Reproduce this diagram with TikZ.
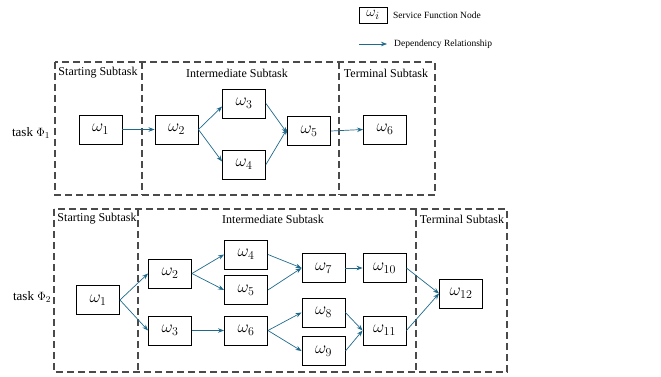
\documentclass[tikz,border=0pt]{standalone}
\usepackage{fontspec}
\setmainfont{Liberation Serif}
\usetikzlibrary{arrows.meta}
\definecolor{arr}{HTML}{1F6A8C}
\definecolor{dash}{HTML}{4A4A4A}
\tikzset{
  fnode/.style={draw=black,line width=0.9pt,minimum width=43pt,minimum height=29pt,inner sep=0pt,font=\fontsize{18}{18}\selectfont},
  dep/.style={draw=arr,line width=0.7pt,-{Stealth[length=6pt,width=4.5pt]}},
  region/.style={draw=dash,line width=1.1pt,dash pattern=on 7pt off 4pt},
  lbl/.style={font=\fontsize{12}{12}\selectfont,inner sep=0pt},
  leg/.style={font=\fontsize{9.5}{9.5}\selectfont,inner sep=0pt,anchor=west}
}
\begin{document}
\begin{tikzpicture}[x=1pt,y=-1pt]
\useasboundingbox (0,0) rectangle (661,377);
% legend
\node[draw=black,line width=0.9pt,minimum width=28pt,minimum height=16pt,inner sep=0pt,font=\fontsize{15}{15}\selectfont] (legbox) at (373,15) {$\omega_i$};
\node[leg] (legt1) at (393,15) {Service Function Node};
\coordinate (la) at (359,44);
\coordinate (lb) at (387,44);
\draw[dep] (la) -- (lb);
\node[leg] (legt2) at (394,44) {Dependency Relationship};
% task 1 regions
\draw[region] (55,62) rectangle (435,195);
\draw[region] (142,62) -- (142,195);
\draw[region] (339,62) -- (339,195);
\node[lbl] (s1) at (98,73) {Starting Subtask};
\node[lbl] (i1) at (237,73) {Intermediate Subtask};
\node[lbl] (t1) at (386,73) {Terminal Subtask};
\node[lbl,font=\fontsize{13}{13}\selectfont] (task1) at (31,133) {task $\Phi_1$};
\node[fnode] (a1) at (100.5,129.5) {$\omega_1$};
\node[fnode] (a2) at (176.5,129.5) {$\omega_2$};
\node[fnode] (a3) at (244,103.5) {$\omega_3$};
\node[fnode] (a4) at (244,164.5) {$\omega_4$};
\node[fnode] (a5) at (309,131) {$\omega_5$};
\node[fnode] (a6) at (385,129.5) {$\omega_6$};
\draw[dep] (a1.east) -- (a2.west);
\draw[dep] (a2.east) -- ([yshift=-3pt]a3.west);
\draw[dep] (a2.east) -- ([yshift=3pt]a4.west);
\draw[dep] (a3.east) -- ([yshift=-2pt]a5.west);
\draw[dep] (a4.east) -- ([yshift=2pt]a5.west);
\draw[dep] (a5.east) -- (a6.west);
% task 2 regions
\draw[region] (54,209) rectangle (507,372);
\draw[region] (138,209) -- (138,372);
\draw[region] (416,209) -- (416,372);
\node[lbl] (s2) at (97,219) {Starting Subtask};
\node[lbl] (i2) at (273,219) {Intermediate Subtask};
\node[lbl] (t2) at (462,219) {Terminal Subtask};
\node[lbl,font=\fontsize{13}{13}\selectfont] (task2) at (32,297) {task $\Phi_2$};
\node[fnode] (b1) at (98,300) {$\omega_1$};
\node[fnode] (b2) at (170,273.5) {$\omega_2$};
\node[fnode] (b3) at (170,330.5) {$\omega_3$};
\node[fnode] (b4) at (246,254.5) {$\omega_4$};
\node[fnode] (b5) at (246,290) {$\omega_5$};
\node[fnode] (b6) at (246,330.5) {$\omega_6$};
\node[fnode] (b7) at (323.5,268) {$\omega_7$};
\node[fnode] (b8) at (323.5,312.5) {$\omega_8$};
\node[fnode] (b9) at (323.5,351) {$\omega_9$};
\node[fnode] (b10) at (384.5,268) {$\omega_{10}$};
\node[fnode] (b11) at (384.5,330.5) {$\omega_{11}$};
\node[fnode] (b12) at (461,293.5) {$\omega_{12}$};
\draw[dep] (b1.east) -- (b2.west);
\draw[dep] (b1.east) -- (b3.west);
\draw[dep] (b2.east) -- (b4.west);
\draw[dep] (b2.east) -- (b5.west);
\draw[dep] (b3.east) -- (b6.west);
\draw[dep] (b4.east) -- (b7.west);
\draw[dep] (b5.east) -- (b7.west);
\draw[dep] (b6.east) -- (b8.west);
\draw[dep] (b6.east) -- (b9.west);
\draw[dep] (b7.east) -- (b10.west);
\draw[dep] (b8.east) -- (b11.west);
\draw[dep] (b9.east) -- (b11.west);
\draw[dep] (b10.east) -- (b12.west);
\draw[dep] (b11.east) -- (b12.west);
\end{tikzpicture}
\end{document}
